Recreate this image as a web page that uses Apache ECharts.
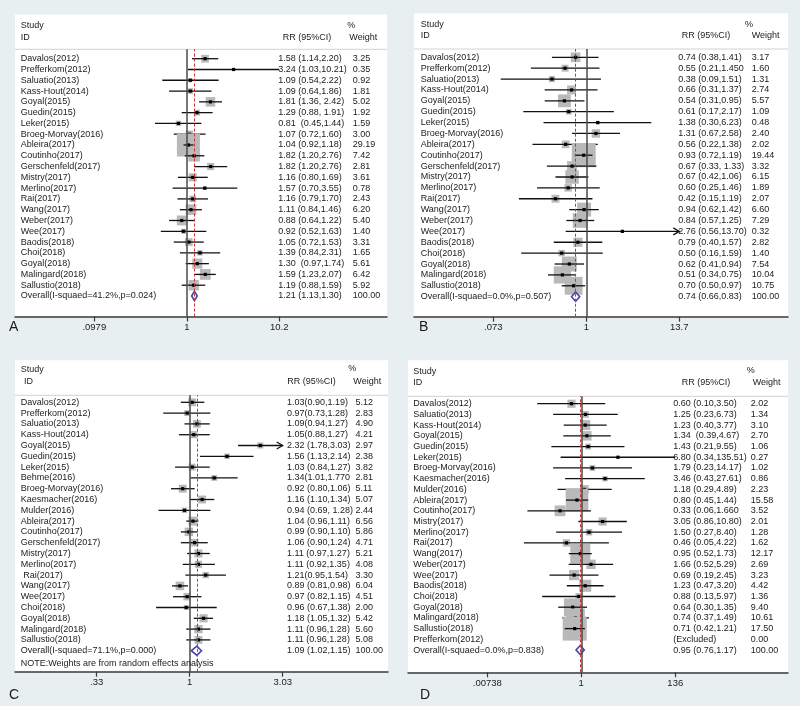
<!DOCTYPE html>
<html><head><meta charset="utf-8">
<script src="https://cdn.jsdelivr.net/npm/echarts@6/dist/echarts.min.js"></script>
<style>html,body{margin:0;padding:0;background:#e7eff1;}#c{width:800px;height:706px;}</style>
</head><body><div id="c"></div>
<script>
// ---------------- Panel A ----------------
const studiesA = ['Davalos(2012)','Prefferkom(2012)','Saluatio(2013)','Kass-Hout(2014)','Goyal(2015)','Guedin(2015)','Leker(2015)','Broeg-Morvay(2016)','Ableira(2017)','Coutinho(2017)','Gerschenfeld(2017)','Mistry(2017)','Merlino(2017)','Rai(2017)','Wang(2017)','Weber(2017)','Wee(2017)','Baodis(2018)','Choi(2018)','Goyal(2018)','Malingard(2018)','Sallustio(2018)'];
const rrTextA = ['1.58 (1.14,2.20)','3.24 (1.03,10.21)','1.09 (0.54,2.22)','1.09 (0.64,1.86)','1.81 (1.36, 2.42)','1.29 (0.88, 1.91)','0.81  (0.45,1.44)','1.07 (0.72,1.60)','1.04 (0.92,1.18)','1.82 (1.20,2.76)','1.82 (1.20,2.76)','1.16 (0.80,1.69)','1.57 (0.70,3.55)','1.16 (0.79,1.70)','1.11 (0.84,1.46)','0.88 (0.64,1.22)','0.92 (0.52,1.63)','1.05 (0.72,1.53)','1.39 (0.84,2.31)','1.30  (0.97,1.74)','1.59 (1.23,2.07)','1.19 (0.88,1.59)'];
const estA = [1.58,3.24,1.09,1.09,1.81,1.29,0.81,1.07,1.04,1.20,1.82,1.16,1.57,1.16,1.11,0.88,0.92,1.05,1.39,1.30,1.59,1.19];
const loA  = [1.14,1.03,0.54,0.64,1.36,0.88,0.45,0.72,0.92,0.95,1.20,0.80,0.70,0.79,0.84,0.64,0.52,0.72,0.84,0.97,1.23,0.88];
const hiA  = [2.20,10.21,2.22,1.86,2.42,1.91,1.44,1.60,1.18,1.55,2.76,1.69,3.55,1.70,1.46,1.22,1.63,1.53,2.31,1.74,2.07,1.59];
const weightA = [3.25,0.35,0.92,1.81,5.02,1.92,1.59,3.00,29.19,7.42,2.81,3.61,0.78,2.43,6.20,5.40,1.40,3.31,1.65,5.61,6.42,5.92];
const overallLabelA = 'Overall(I-squaed=41.2%,p=0.024)';
const overallA = [1.21, 1.13, 1.30];
const overallTextA = '1.21 (1.13,1.30)';
const ticksA = [0.0979, 1, 10.2];
const tickLabelsA = ['.0979', '1', '10.2'];

// ---------------- Panel B ----------------
const studiesB = studiesA.slice();
const rrTextB = ['0.74 (0.38,1.41)','0.55 (0.21,1.450','0.38 (0.09,1.51)','0.66 (0.31,1.37)','0.54 (0.31,0.95)','0.61 (0.17,2.17)','1.38 (0.30,6.23)','1.31 (0.67,2.58)','0.56 (0.22,1.38)','0.93 (0.72,1.19)','0.67 (0.33, 1.33)','0.67 (0.42,1.06)','0.60 (0.25,1.46)','0.42 (0.15,1.19)','0.94 (0.62,1.42)','0.84 (0.57,1.25)','2.76 (0.56,13.70)','0.79 (0.40,1.57)','0.50 (0.16,1.59)','0.62 (0.41,0.94)','0.51 (0.34,0.75)','0.70 (0.50,0.97)'];
const estB = [0.74,0.55,0.38,0.66,0.54,0.61,1.38,1.31,0.56,0.93,0.67,0.67,0.60,0.42,0.94,0.84,2.76,0.79,0.50,0.62,0.51,0.70];
const loB  = [0.38,0.21,0.09,0.31,0.31,0.17,0.30,0.67,0.22,0.72,0.33,0.42,0.25,0.15,0.62,0.57,0.56,0.40,0.16,0.41,0.34,0.50];
const hiB  = [1.41,1.45,1.51,1.37,0.95,2.17,6.23,2.58,1.38,1.19,1.33,1.06,1.46,1.19,1.42,1.25,13.70,1.57,1.59,0.94,0.75,0.97];
const weightB = [3.17,1.60,1.31,2.74,5.57,1.09,0.48,2.40,2.02,19.44,3.32,6.15,1.89,2.07,6.60,7.29,0.32,2.82,1.40,7.54,10.04,10.75];
const overallLabelB = 'Overall(I-squaed=0.0%,p=0.507)';
const overallB = [0.74, 0.66, 0.83];
const overallTextB = '0.74 (0.66,0.83)';
const ticksB = [0.073, 1, 13.7];
const tickLabelsB = ['.073', '1', '13.7'];

// ---------------- Panel C ----------------
const studiesC = ['Davalos(2012)','Prefferkom(2012)','Saluatio(2013)','Kass-Hout(2014)','Goyal(2015)','Guedin(2015)','Leker(2015)','Behme(2016)','Broeg-Morvay(2016)','Kaesmacher(2016)','Mulder(2016)','Ableira(2017)','Coutinho(2017)','Gerschenfeld(2017)','Mistry(2017)','Merlino(2017)',' Rai(2017)','Wang(2017)','Wee(2017)','Choi(2018)','Goyal(2018)','Malingard(2018)','Sallustio(2018)'];
const rrTextC = ['1.03(0.90,1.19)','0.97(0.73,1.28)','1.09(0.94,1.27)','1.05(0.88,1.27)','2.32 (1.78,3.03)','1.56 (1.13,2.14)','1.03 (0.84,1.27)','1.34(1.01,1.770','0.92 (0.80,1.06)','1.16 (1.10,1.34)','0.94 (0.69, 1.28)','1.04 (0.96,1.11)','0.99 (0.90,1.10)','1.06 (0.90,1.24)','1.11 (0.97,1.27)','1.11 (0.92,1.35)','1.21(0.95,1.54)','0.89 (0.81,0.98)','0.97 (0.82,1.15)','0.96 (0.67,1.38)','1.18 (1.05,1.32)','1.11 (0.96,1.28)','1.11 (0.96,1.28)'];
const estC = [1.03,0.97,1.09,1.05,2.32,1.56,1.03,1.34,0.92,1.16,0.94,1.04,0.99,1.06,1.11,1.11,1.21,0.89,0.97,0.96,1.18,1.11,1.11];
const loC  = [0.90,0.73,0.94,0.88,1.78,1.13,0.84,1.01,0.80,1.00,0.69,0.96,0.90,0.90,0.97,0.92,0.95,0.81,0.82,0.67,1.05,0.96,0.96];
const hiC  = [1.19,1.28,1.27,1.27,3.03,2.14,1.27,1.77,1.06,1.34,1.28,1.11,1.10,1.24,1.27,1.35,1.54,0.98,1.15,1.38,1.32,1.28,1.28];
const weightC = [5.12,2.83,4.90,4.21,2.97,2.38,3.82,2.81,5.11,5.07,2.44,6.56,5.86,4.71,5.21,4.08,3.30,6.04,4.51,2.00,5.42,5.60,5.08];
const overallLabelC = 'Overall(I-squaed=71.1%,p=0.000)';
const overallC = [1.09, 1.02, 1.15];
const overallTextC = '1.09 (1.02,1.15)';
const ticksC = [0.33, 1, 3.03];
const tickLabelsC = ['.33', '1', '3.03'];
const noteC = 'NOTE:Weights are from random effects analysis';

// ---------------- Panel D ----------------
const studiesD = ['Davalos(2012)','Saluatio(2013)','Kass-Hout(2014)','Goyal(2015)','Guedin(2015)','Leker(2015)','Broeg-Morvay(2016)','Kaesmacher(2016)','Mulder(2016)','Ableira(2017)','Coutinho(2017)','Mistry(2017)','Merlino(2017)','Rai(2017)','Wang(2017)','Weber(2017)','Wee(2017)','Baodis(2018)','Choi(2018)','Goyal(2018)','Malingard(2018)','Sallustio(2018)','Prefferkom(2012)'];
const rrTextD = ['0.60 (0.10,3.50)','1.25 (0.23,6.73)','1.23 (0.40,3.77)','1.34  (0.39,4.67)','1.43 (0.21,9.55)','6.80 (0.34,135.51)','1.79 (0.23,14.17)','3.46 (0.43,27.61)','1.18 (0.29,4.89)','0.80 (0.45,1.44)','0.33 (0.06,1.660','3.05 (0.86,10.80)','1.50 (0.27,8.40)','0.46 (0.05,4.22)','0.95 (0.52,1.73)','1.66 (0.52,5.29)','0.69 (0.19,2.45)','1.23 (0.47,3.20)','0.88 (0.13,5.97)','0.64 (0.30,1.35)','0.74 (0.37,1.49)','0.71 (0.42,1.21)','(Excluded)'];
const estD = [0.60,1.25,1.23,1.34,1.43,6.80,1.79,3.46,1.18,0.80,0.33,3.05,1.50,0.46,0.95,1.66,0.69,1.23,0.88,0.64,0.74,0.71,null];
const loD  = [0.10,0.23,0.40,0.39,0.21,0.34,0.23,0.43,0.29,0.45,0.06,0.86,0.27,0.05,0.52,0.52,0.19,0.47,0.13,0.30,0.37,0.42,null];
const hiD  = [3.50,6.73,3.77,4.67,9.55,135.51,14.17,27.61,4.89,1.44,1.66,10.80,8.40,4.22,1.73,5.29,2.45,3.20,5.97,1.35,1.49,1.21,null];
const weightD = [2.02,1.34,3.10,2.70,1.06,0.27,1.02,0.86,2.23,15.58,3.52,2.01,1.28,1.62,12.17,2.69,3.23,4.42,1.36,9.40,10.61,17.50,0.00];
const overallLabelD = 'Overall(I-squaed=0.0%,p=0.838)';
const overallD = [0.95, 0.76, 1.17];
const overallTextD = '0.95 (0.76,1.17)';
const ticksD = [0.00738, 1, 136];
const tickLabelsD = ['.00738', '1', '136'];

// ---------------- layout (pixels) ----------------
const layA = {L:15, R:387, boxTop:14.5, ruleY:49.3, axisY:316.5, firstY:58.7, step:10.786, tLoPx:94.3, tHiPx:279.3, nameX:20.7, rrX:278.3, wX:352.7, k:4.26, letter:'A', letterX:9, letterY:327,
  hdr:{studyX:20.7, studyY:26, idX:20.7, idY:37.7, rrX:282.7, rrY:37.7, pctX:347.3, pctY:26, wX:349.3, wY:37.7}};
const layB = {L:414, R:788, boxTop:13.3, ruleY:49, axisY:316.7, firstY:57.3, step:10.88, tLoPx:493.3, tHiPx:679.3, nameX:420.7, rrX:678.3, wX:751.7, k:5.44, letter:'B', letterX:419, letterY:327,
  hdr:{studyX:420.7, studyY:25, idX:420.7, idY:36, rrX:681.7, rrY:36, pctX:745, pctY:25, wX:751.7, wY:36}};
const layC = {L:15, R:388, boxTop:360.3, ruleY:395.3, axisY:671.7, firstY:402.3, step:10.8, tLoPx:96.7, tHiPx:282.7, nameX:20.7, rrX:287, wX:355.5, k:3.5, letter:'C', letterX:9, letterY:695,
  note:{x:20.7, y:664}, hdr:{studyX:20.7, studyY:370, idX:24, idY:382, rrX:287.3, rrY:382, pctX:348.3, pctY:369, wX:353.3, wY:382}};
const layD = {L:408, R:788, boxTop:360.3, ruleY:396.3, axisY:672.3, firstY:403.7, step:10.71, tLoPx:487.3, tHiPx:675.3, nameX:413.3, rrX:673.3, wX:750.7, k:5.74, letter:'D', letterX:420, letterY:695,
  hdr:{studyX:413.3, studyY:371.3, idX:413.3, idY:383, rrX:681.7, rrY:383, pctX:746.7, pctY:370.7, wX:752.7, wY:383}};

const FONT = "'Liberation Sans',Arial,sans-serif";
const FS = 9;
const TEXT = '#1b1b1b';

const panels = [
  {studies:studiesA, rr:rrTextA, est:estA, lo:loA, hi:hiA, w:weightA, ovLabel:overallLabelA, ov:overallA, ovText:overallTextA, ticks:ticksA, tickLabels:tickLabelsA, lay:layA},
  {studies:studiesB, rr:rrTextB, est:estB, lo:loB, hi:hiB, w:weightB, ovLabel:overallLabelB, ov:overallB, ovText:overallTextB, ticks:ticksB, tickLabels:tickLabelsB, lay:layB},
  {studies:studiesC, rr:rrTextC, est:estC, lo:loC, hi:hiC, w:weightC, ovLabel:overallLabelC, ov:overallC, ovText:overallTextC, ticks:ticksC, tickLabels:tickLabelsC, lay:layC, note:noteC},
  {studies:studiesD, rr:rrTextD, est:estD, lo:loD, hi:hiD, w:weightD, ovLabel:overallLabelD, ov:overallD, ovText:overallTextD, ticks:ticksD, tickLabels:tickLabelsD, lay:layD}
];

const grids = [], xAxes = [], yAxes = [], series = [], graphics = [];
function txt(text, x, y, size, family) {
  return {type:'text', x:x, y:y, z:20, style:{text:text, fill:TEXT, fontSize:size || FS, fontFamily:family || FONT, verticalAlign:'middle', align:'left'}};
}

panels.forEach(function (P) {
  const lay = P.lay;
  const lnLo = Math.log(P.ticks[0]);
  const lnHi = Math.log(P.ticks[P.ticks.length - 1]);
  const scale = (lay.tHiPx - lay.tLoPx) / (lnHi - lnLo);
  const x0 = lay.tLoPx - lnLo * scale;
  const xmin = (lay.L - x0) / scale;
  const xmax = (lay.R - x0) / scale;
  const names = P.studies.concat([P.ovLabel]);
  const rrs = P.rr.concat([P.ovText]);
  const ws = P.w.map(function (v) { return v.toFixed(2); }).concat(['100.00']);
  const n = names.length;
  const cats = names.map(function (_, i) { return 'r' + i; });
  const tickVals = P.ticks.map(Math.log);

  // frame grid (null line, pooled line, x axis)
  const gF = grids.length;
  grids.push({left:lay.L, width:lay.R - lay.L, top:lay.ruleY, height:lay.axisY - lay.ruleY});
  const xF = xAxes.length;
  xAxes.push({gridIndex:gF, type:'value', min:xmin, max:xmax, splitLine:{show:false},
    axisLine:{show:true, onZero:false, lineStyle:{color:'#3a3a3a', width:1.5}},
    axisTick:{show:true, customValues:tickVals, length:5, lineStyle:{color:'#3a3a3a', width:1.2}},
    axisLabel:{show:true, customValues:tickVals, margin:6, fontSize:9.5, fontFamily:FONT, color:TEXT,
      formatter:function (v) { for (let i = 0; i < tickVals.length; i++) { if (Math.abs(tickVals[i] - v) < 1e-6) return P.tickLabels[i]; } return ''; }}});
  const yF = yAxes.length;
  yAxes.push({gridIndex:gF, type:'value', min:0, max:1, show:false});

  series.push({type:'line', xAxisIndex:xF, yAxisIndex:yF, data:[[0, 0.5]], showSymbol:false, lineStyle:{opacity:0}, z:1, silent:true,
    markLine:{silent:true, symbol:['none','none'], label:{show:false}, animation:false,
      data:[{xAxis:0, lineStyle:{color:'#4a4a4a', width:1.5, type:'solid'}},
            {xAxis:Math.log(P.ov[0]), lineStyle:{color:'#cc3333', width:1, type:[3,2]}}]}});

  // rows grid
  const gR = grids.length;
  grids.push({left:lay.L, width:lay.R - lay.L, top:lay.firstY - lay.step / 2, height:n * lay.step});
  const xR = xAxes.length;
  xAxes.push({gridIndex:gR, type:'value', min:xmin, max:xmax, show:false});
  const yR = yAxes.length;
  const lblBase = {inside:true, interval:0, fontSize:FS, fontFamily:FONT, color:TEXT};
  yAxes.push({gridIndex:gR, type:'category', data:cats, inverse:true, position:'left', axisLine:{show:false}, axisTick:{show:false}, splitLine:{show:false},
    axisLabel:Object.assign({}, lblBase, {margin:lay.nameX - lay.L, formatter:function (v, i) { return names[i]; }})});
  yAxes.push({gridIndex:gR, type:'category', data:cats, inverse:true, position:'left', offset:-(lay.rrX - lay.L), axisLine:{show:false}, axisTick:{show:false}, splitLine:{show:false},
    axisLabel:Object.assign({}, lblBase, {margin:0, formatter:function (v, i) { return rrs[i]; }})});
  yAxes.push({gridIndex:gR, type:'category', data:cats, inverse:true, position:'left', offset:-(lay.wX - lay.L), axisLine:{show:false}, axisTick:{show:false}, splitLine:{show:false},
    axisLabel:Object.assign({}, lblBase, {margin:0, formatter:function (v, i) { return ws[i]; }})});

  const rows = [];
  P.est.forEach(function (e, i) {
    if (e == null) return;
    rows.push([i, Math.log(e), Math.log(P.lo[i]), Math.log(P.hi[i]), P.w[i]]);
  });
  series.push({type:'custom', xAxisIndex:xR, yAxisIndex:yR, z:3, clip:false, silent:true, animation:false,
    encode:{x:[1,2,3], y:0}, data:rows,
    renderItem:function (params, api) {
      const row = api.value(0), e = api.value(1), lo = api.value(2), hi = api.value(3), w = api.value(4);
      const c = api.coord([e, row]);
      const a = api.coord([Math.max(lo, lnLo), row]);
      const b = api.coord([Math.min(hi, lnHi), row]);
      const side = lay.k * Math.sqrt(w);
      const ch = [
        {type:'rect', shape:{x:c[0] - side / 2, y:c[1] - side / 2, width:side, height:side}, style:{fill:'#b9b9b9'}},
        {type:'line', shape:{x1:a[0], y1:a[1], x2:b[0], y2:b[1]}, style:{stroke:'#111', lineWidth:1.3}},
        {type:'rect', shape:{x:c[0] - 1.6, y:c[1] - 1.6, width:3.2, height:3.2}, style:{fill:'#000'}}
      ];
      if (Math.abs(hi - lnHi) < 1e-4) {
        ch.push({type:'polyline', shape:{points:[[b[0] - 6, b[1] - 3.5], [b[0], b[1]], [b[0] - 6, b[1] + 3.5]]}, style:{stroke:'#111', lineWidth:1.2, fill:null}});
      }
      return {type:'group', children:ch};
    }});
  series.push({type:'custom', xAxisIndex:xR, yAxisIndex:yR, z:4, clip:false, silent:true, animation:false,
    encode:{x:[1,2,3], y:0}, data:[[n - 1, Math.log(P.ov[0]), Math.log(P.ov[1]), Math.log(P.ov[2])]],
    renderItem:function (params, api) {
      const row = api.value(0);
      const c = api.coord([api.value(1), row]);
      const a = api.coord([api.value(2), row]);
      const b = api.coord([api.value(3), row]);
      const h = 4.6;
      return {type:'polygon', shape:{points:[[a[0], a[1]], [c[0], c[1] - h], [b[0], b[1]], [c[0], c[1] + h]]},
        style:{fill:'rgba(255,255,255,0.6)', stroke:'#4a44a8', lineWidth:1.6}};
    }});

  // decorations
  graphics.push({type:'rect', z:-10, shape:{x:lay.L, y:lay.boxTop, width:lay.R - lay.L, height:lay.axisY - lay.boxTop}, style:{fill:'#ffffff'}});
  graphics.push({type:'line', z:-5, shape:{x1:lay.L, y1:lay.ruleY, x2:lay.R, y2:lay.ruleY}, style:{stroke:'#d2d2d2', lineWidth:1}});
  const H = lay.hdr;
  graphics.push(txt('Study', H.studyX, H.studyY));
  graphics.push(txt('ID', H.idX, H.idY));
  graphics.push(txt('RR (95%CI)', H.rrX, H.rrY));
  graphics.push(txt('%', H.pctX, H.pctY));
  graphics.push(txt('Weight', H.wX, H.wY));
  graphics.push(txt(lay.letter, lay.letterX, lay.letterY, 14));
  if (P.note) graphics.push(txt(P.note, lay.note.x, lay.note.y));
});

const chart = echarts.init(document.getElementById('c'), null, {renderer:'canvas', width:800, height:706});
chart.setOption({
  backgroundColor:'#e7eff1',
  animation:false,
  grid:grids, xAxis:xAxes, yAxis:yAxes, series:series,
  graphic:{elements:graphics}
});
</script>
</body></html>
